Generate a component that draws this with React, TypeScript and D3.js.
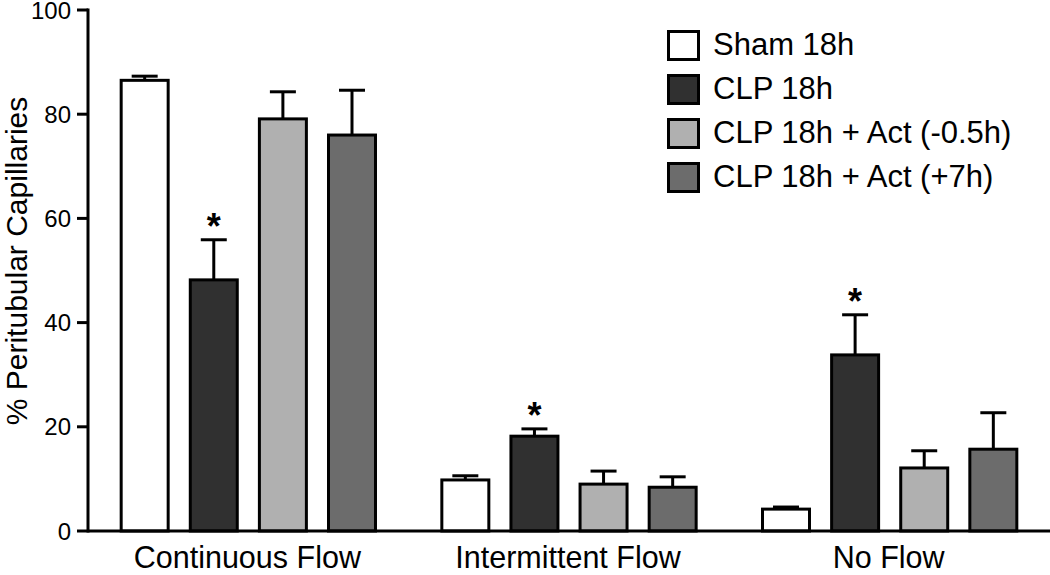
import React from "react";
import * as d3 from "d3";

const categories = ["Continuous Flow", "Intermittent Flow", "No Flow"];
const seriesNames = ["Sham 18h", "CLP 18h", "CLP 18h + Act (-0.5h)", "CLP 18h + Act (+7h)"];
const seriesColors = ["#ffffff", "#303030", "#b0b0b0", "#6c6c6c"];
const shamValues = [86.5, 9.8, 4.2];
const clpValues = [48.2, 18.2, 33.8];
const actEarlyValues = [79.1, 9.0, 12.1];
const actLateValues = [76.0, 8.4, 15.7];
const shamErr = [0.8, 0.8, 0.4];
const clpErr = [7.7, 1.4, 7.7];
const actEarlyErr = [5.2, 2.5, 3.3];
const actLateErr = [8.6, 2.0, 7.0];
const significant = [[false, true, false, false], [false, true, false, false], [false, true, false, false]];
const yTicks = [0, 20, 40, 60, 80, 100];

const values = [shamValues, clpValues, actEarlyValues, actLateValues];
const errors = [shamErr, clpErr, actEarlyErr, actLateErr];

const W = 1050;
const H = 575;
const FONT = "Liberation Sans, Arial, Helvetica, sans-serif";

export default function App() {
  const x0 = d3.scaleBand<string>().domain(categories).range([88, 1050]).padding(0);
  const x1 = d3
    .scaleBand<string>()
    .domain(seriesNames)
    .range([0, x0.bandwidth()])
    .paddingInner(0.32)
    .paddingOuter(0.48);
  const y = d3.scaleLinear().domain([0, 100]).range([531, 10]);
  const capW = 26;

  return (
    <svg
      width={W}
      height={H}
      style={{ position: "absolute", left: 0, top: 0, background: "#fff" }}
      fontFamily={FONT}
    >
      {categories.map((cat, ci) => (
        <g key={cat}>
          {seriesNames.map((s, si) => {
            const v = values[si][ci];
            const e = errors[si][ci];
            const bx = (x0(cat) as number) + (x1(s) as number);
            const bw = x1.bandwidth();
            const cx = bx + bw / 2;
            return (
              <g key={s}>
                <line x1={cx} x2={cx} y1={y(v)} y2={y(v + e)} stroke="#000" strokeWidth={3} />
                <line x1={cx - capW / 2} x2={cx + capW / 2} y1={y(v + e)} y2={y(v + e)} stroke="#000" strokeWidth={3} />
                <rect
                  x={bx}
                  y={y(v)}
                  width={bw}
                  height={y(0) - y(v)}
                  fill={seriesColors[si]}
                  stroke="#000"
                  strokeWidth={3}
                />
                {significant[ci][si] && (
                  <text x={cx} y={y(v + e) - 1} textAnchor="middle" fontSize={36} fontWeight="bold" fill="#000">
                    *
                  </text>
                )}
              </g>
            );
          })}
        </g>
      ))}

      <line x1={88} x2={1050} y1={y(0)} y2={y(0)} stroke="#000" strokeWidth={3} />
      <line x1={88} x2={88} y1={y(0) + 1.5} y2={y(100) - 1.5} stroke="#000" strokeWidth={3} />
      {yTicks.map((t) => (
        <g key={t}>
          <line x1={77} x2={88} y1={y(t)} y2={y(t)} stroke="#000" strokeWidth={3} />
          <text x={71} y={y(t)} dy="0.36em" textAnchor="end" fontSize={24} fill="#000">
            {t}
          </text>
        </g>
      ))}
      <text
        transform="translate(27, 261) rotate(-90)"
        textAnchor="middle"
        fontSize={30}
        fill="#000"
      >
        % Peritubular Capillaries
      </text>
      {categories.map((cat) => (
        <text
          key={cat}
          x={(x0(cat) as number) + x0.bandwidth() / 2 - 1}
          y={568}
          textAnchor="middle"
          fontSize={30.5}
          fill="#000"
        >
          {cat}
        </text>
      ))}

      {seriesNames.map((s, si) => (
        <g key={s} transform={`translate(0, ${si * 44})`}>
          <rect x={668.5} y={31.5} width={30} height={28} fill={seriesColors[si]} stroke="#000" strokeWidth={3} />
          <text x={713} y={55} fontSize={31} fill="#000">
            {s}
          </text>
        </g>
      ))}
    </svg>
  );
}
